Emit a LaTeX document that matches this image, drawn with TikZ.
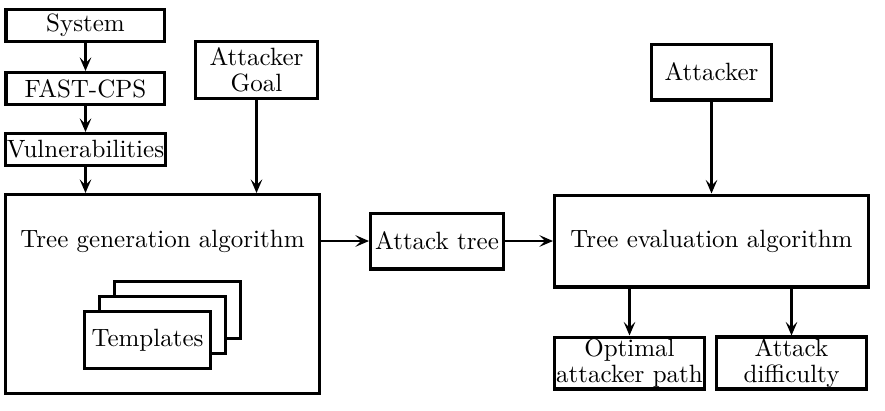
\documentclass[tikz,border=0pt]{standalone}
\usepackage{tikz}
\usetikzlibrary{positioning,arrows.meta,calc}

\begin{document}
\begin{tikzpicture}[
    box/.style={rectangle, draw, line width=1.3pt, inner sep=0.5pt, align=center, font=\fontsize{10}{10.5}\selectfont},
    small/.style={box, minimum width=63.5pt, minimum height=12.7pt},
    card/.style={box, fill=white, minimum width=50.3pt, minimum height=22.7pt},
    arrow/.style={line width=1.1pt, -{Stealth[length=5.4pt, width=4.6pt, inset=2.2pt]}}
]
\node[small] (sys) {System};
\node[small, below=11.2pt of sys] (fast) {FAST-CPS};
\node[small, below=10.4pt of fast] (vuln) {Vulnerabilities};
\node[box, minimum width=125.5pt, minimum height=79.5pt, below=10.4pt of vuln.south west, anchor=north west] (gen) {};
\node[font=\fontsize{10}{10.5}\selectfont] (gentext) at ([yshift=21.2pt]gen.center) {Tree generation algorithm};
\coordinate (tplc) at ([xshift=-6pt, yshift=-18.4pt]gen.center);
\foreach \k in {2,1}
  \node[card] (card\k) at ([xshift=\k*6pt, yshift=\k*6pt]tplc) {};
\node[card] (tpl) at (tplc) {Templates};
\node[box, minimum width=48.7pt, minimum height=22.7pt, above=37.2pt of gen.north, xshift=37.6pt] (goal) {Attacker\\Goal};
\coordinate (genout) at (gen.east |- gentext);
\node[box, minimum width=53.1pt, minimum height=22.3pt, right=19.2pt of genout] (tree) {Attack tree};
\node[box, minimum width=125.5pt, minimum height=36.7pt, right=19.2pt of tree] (eval) {Tree evaluation algorithm};
\node[box, minimum width=47.9pt, minimum height=22.3pt, above=36.8pt of eval] (atk) {Attacker};
\node[box, minimum width=59.9pt, minimum height=20.7pt, below=18.8pt of eval.south west, anchor=north west] (opt) {Optimal\\attacker path};
\node[box, minimum width=59.9pt, minimum height=20.7pt, right=3.6pt of opt] (diff) {Attack\\difficulty};
\draw[arrow] (sys) -- (fast);
\draw[arrow] (fast) -- (vuln);
\draw[arrow] (vuln) -- (vuln |- gen.north);
\draw[arrow] (goal) -- (goal |- gen.north);
\draw[arrow] (genout) -- (tree);
\draw[arrow] (tree) -- (eval);
\draw[arrow] (atk) -- (eval);
\draw[arrow] (opt |- eval.south) -- (opt);
\draw[arrow] (diff |- eval.south) -- (diff);
\useasboundingbox ([xshift=-1.8pt, yshift=3.2pt]sys.north west) rectangle ++(354pt,-164pt);
\end{tikzpicture}
\end{document}
